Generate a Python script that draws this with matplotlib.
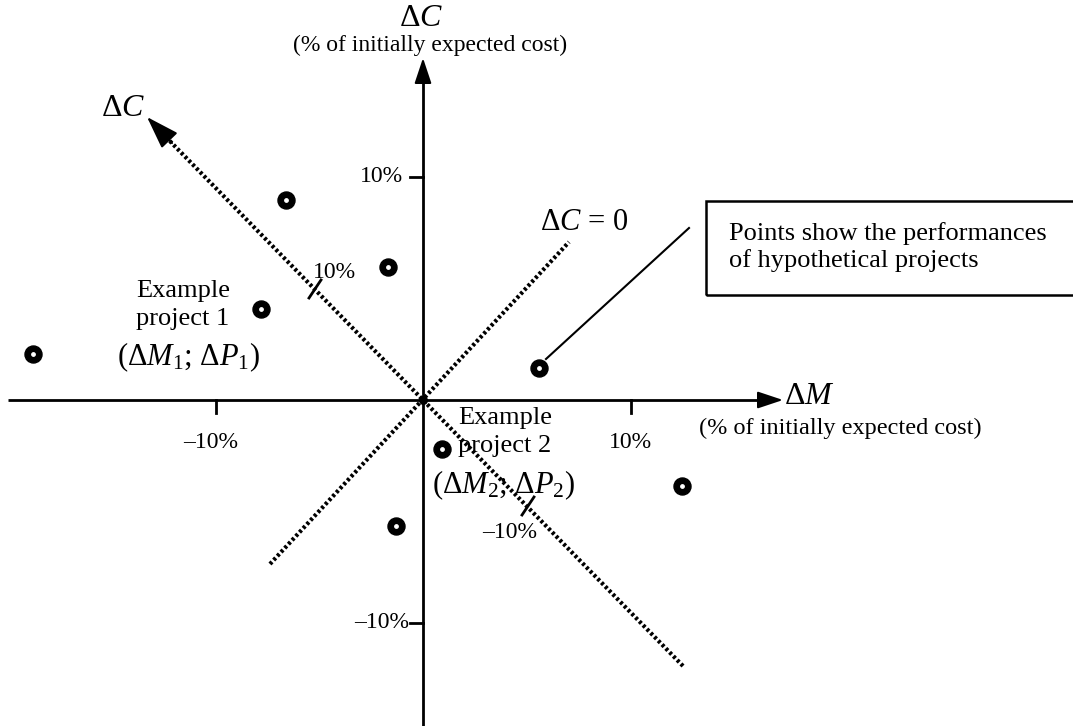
import matplotlib
matplotlib.use("Agg")
import matplotlib.pyplot as plt
from matplotlib.patches import Rectangle

plt.rcParams['font.family'] = ['Liberation Serif', 'DejaVu Serif']
plt.rcParams['mathtext.fontset'] = 'custom'
plt.rcParams['mathtext.rm'] = 'Liberation Serif'
plt.rcParams['mathtext.it'] = 'Liberation Serif:italic'

# Hypothetical project performances (% of initially expected cost)
delta_m = [-18.8, -6.6, -1.7, -7.8, 5.6, 0.9, -1.3, 12.5]
delta_p = [2.05, 8.95, 5.95, 4.1, 1.45, -2.2, -5.65, -3.85]
tick_values = [-10, 10]
tick_labels = ['\u201310%', '10%']

# pixel scale: x 20.75 px per %, y 22.3 px per %
XS, YS = 20.75, 22.3
OX, OY = 423, 400
def px(x, y):
    return ((x - OX) / XS, (OY - y) / YS)

fig = plt.figure(figsize=(10.73, 7.26), dpi=100)
ax = fig.add_axes([0, 0, 1, 1])
ax.set_xlim((0 - OX) / XS, (1073 - OX) / XS)
ax.set_ylim((OY - 726) / YS, (OY - 0) / YS)
ax.axis('off')

DOT = (0, (0.7, 0.6))
AH = '-|>,head_length=1.2,head_width=0.4'

# main axes
x0, _ = px(8, 400)
x1, _ = px(783, 400)
ax.plot([x0, x1 - 0.6], [0, 0], color='black', lw=2, solid_capstyle='butt')
ax.annotate('', xy=(x1, 0), xytext=(x1 - 1.0, 0),
            arrowprops=dict(arrowstyle=AH, color='black', lw=1.5, shrinkA=0, shrinkB=0,
                            mutation_scale=13))
_, yb = px(423, 730)
_, yt = px(423, 58)
ax.plot([0, 0], [yb, yt - 0.6], color='black', lw=2, solid_capstyle='butt')
ax.annotate('', xy=(0, yt), xytext=(0, yt - 1.0),
            arrowprops=dict(arrowstyle=AH, color='black', lw=1.5, shrinkA=0, shrinkB=0,
                            mutation_scale=13))

# ticks on the main axes
for v, lab in zip(tick_values, tick_labels):
    ax.plot([v, v], [0, -13 / YS], color='black', lw=2)
    ax.text(v - 5 / XS * (v < 0), -43 / YS, lab, ha='center', va='center', fontsize=17)
    ax.plot([-13 / XS, 0], [v, v], color='black', lw=2)
    ax.text((-14 if v < 0 else -20) / XS, v, lab, ha='right', va='center', fontsize=17)

# axis labels
ax.text(*px(809, 396), r'$\Delta M$', fontsize=23, ha='center', va='center')
ax.text(*px(840, 428), '(% of initially expected cost)', fontsize=17.5, ha='center', va='center')
ax.text(*px(421, 18), r'$\Delta C$', fontsize=23, ha='center', va='center')
ax.text(*px(430, 45), '(% of initially expected cost)', fontsize=17, ha='center', va='center')

# rotated dotted axis (Delta C)
a0 = px(683, 666)
a1 = px(160, 131)
ax.plot([a0[0], a1[0]], [a0[1], a1[1]], color='black', lw=3.0, ls=DOT)
ax.annotate('', xy=px(147, 117), xytext=px(172, 143),
            arrowprops=dict(arrowstyle=AH, color='black', lw=1.5, shrinkA=0, shrinkB=0,
                            mutation_scale=17))
ax.text(*px(123, 109), r'$\Delta C$', fontsize=23, ha='center', va='center')

# tick marks on rotated axis
for cx, cy in [(315, 289), (528, 506)]:
    p0 = px(cx - 6, cy + 9)
    p1 = px(cx + 6, cy - 9)
    ax.plot([p0[0], p1[0]], [p0[1], p1[1]], color='black', lw=2)
ax.text(*px(334, 273), '10%', fontsize=17, ha='center', va='center')
ax.text(*px(510, 533), '\u201310%', fontsize=17, ha='center', va='center')

# Delta C = 0 line
b0 = px(270, 564)
b1 = px(569, 242)
ax.plot([b0[0], b1[0]], [b0[1], b1[1]], color='black', lw=3.0, ls=DOT)
ax.text(*px(584, 223), r'$\Delta C$ = 0', fontsize=22, ha='center', va='center')

# leader line and box
l0 = px(546, 359)
l1 = px(689, 228)
ax.plot([l0[0], l1[0]], [l0[1], l1[1]], color='black', lw=1.5)
r0 = px(706, 295)
r1 = px(1076, 201)
ax.add_patch(Rectangle(r0, r1[0] - r0[0], r1[1] - r0[1], fill=False, ec='black', lw=1.8))
ax.text(*px(729, 247), 'Points show the performances\nof hypothetical projects',
        fontsize=19, ha='left', va='center', linespacing=1.2)

# example labels
ax.text(*px(183, 305), 'Example\nproject 1', fontsize=19, ha='center', va='center', linespacing=1.3)
ax.text(*px(189, 357), r'($\Delta M_1$; $\Delta P_1$)', fontsize=22, ha='center', va='center')
ax.text(*px(458, 432), 'Example\nproject 2', fontsize=19, ha='left', va='center', linespacing=1.3)
ax.text(*px(504, 485), r'($\Delta M_2$; $\Delta P_2$)', fontsize=22, ha='center', va='center')

# points
ax.scatter(delta_m, delta_p, s=150, color='black', zorder=5)
ax.scatter(delta_m, delta_p, s=6, color='white', zorder=6)
ax.scatter([0], [0], s=30, color='black', zorder=5)

fig.savefig('out.png', dpi=100)
